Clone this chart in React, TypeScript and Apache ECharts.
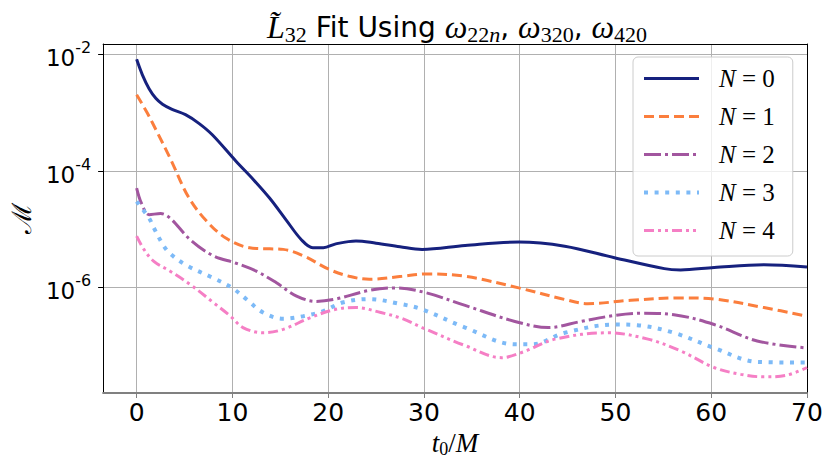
import React, { useEffect, useRef } from 'react';
import * as echarts from 'echarts';

// t0/M sample positions and mismatch values
const n0T = [0, 0.6, 1.3, 2.0, 2.7, 3.7, 5.1, 6.5, 7.9, 10.4, 12.2, 13.9, 15.6, 17.2, 18.4, 19.5, 20.8, 22.9, 25, 27.5, 29.8, 34.3, 39.9, 44.7, 49.9, 55.1, 56.8, 60.3, 65.5, 70];
const n0M = [8.3e-3, 4.5e-3, 2.6e-3, 1.78e-3, 1.41e-3, 1.15e-3, 9.3e-4, 6.6e-4, 4.2e-4, 1.46e-4, 7.1e-5, 3.4e-5, 1.45e-5, 6.6e-6, 4.8e-6, 4.8e-6, 5.6e-6, 6.3e-6, 5.75e-6, 5.0e-6, 4.5e-6, 5.25e-6, 6.0e-6, 5.1e-6, 3.24e-6, 2.1e-6, 2.0e-6, 2.2e-6, 2.45e-6, 2.25e-6];

const n1T = [0, 1.1, 2.1, 3.5, 5.4, 7.3, 9.4, 11.8, 13.9, 15.3, 17.4, 20.1, 22.2, 24.3, 27.7, 30.2, 34.3, 39.9, 44.7, 47.1, 51.6, 56.8, 60.3, 65.5, 70];
const n1M = [2.04e-3, 1.0e-3, 4.8e-4, 1.66e-4, 3.6e-5, 1.38e-5, 6.9e-6, 4.8e-6, 4.6e-6, 4.5e-6, 3.5e-6, 2.04e-6, 1.55e-6, 1.38e-6, 1.55e-6, 1.7e-6, 1.55e-6, 9.8e-7, 6.2e-7, 5.25e-7, 6.0e-7, 6.6e-7, 6.3e-7, 4.5e-7, 3.2e-7];

const n2T = [0, 0.5, 1.3, 2.5, 3.5, 5.6, 8, 10.4, 12.5, 14.6, 16.7, 18.75, 20.8, 24.3, 27, 30.2, 34.3, 39.5, 43, 46.4, 49.9, 52.7, 56.1, 60.3, 64.8, 70];
const n2M = [5.1e-5, 2.8e-5, 1.78e-5, 1.86e-5, 1.55e-5, 6.6e-6, 3.5e-6, 2.6e-6, 1.9e-6, 1.2e-6, 7.1e-7, 5.75e-7, 6.3e-7, 8.9e-7, 9.8e-7, 8.1e-7, 4.9e-7, 2.6e-7, 2.04e-7, 2.6e-7, 3.3e-7, 3.6e-7, 3.4e-7, 2.3e-7, 1.2e-7, 9.1e-8];

const n3T = [0, 1.3, 1.8, 2.8, 3.5, 5.2, 8, 9.9, 11.5, 13.2, 15.3, 17.4, 19.5, 21.5, 24.3, 27.4, 29.8, 34.3, 39.5, 41.3, 44.7, 49.9, 52.3, 56.1, 60.3, 64.8, 70];
const n3M = [3.0e-5, 1.55e-5, 1.05e-5, 5.25e-6, 3.8e-6, 2.4e-6, 1.45e-6, 1.0e-6, 6.2e-7, 3.7e-7, 2.9e-7, 3.2e-7, 3.9e-7, 5.5e-7, 6.3e-7, 5.25e-7, 4.2e-7, 2.04e-7, 1.05e-7, 1.05e-7, 1.66e-7, 2.3e-7, 2.24e-7, 1.66e-7, 9.1e-8, 5.25e-8, 5.1e-8];

const n4T = [0, 0.76, 1.8, 3.5, 5.6, 8, 9.8, 11.1, 13.2, 15.3, 18.1, 20.8, 22.9, 25.5, 27.75, 29.8, 34.3, 38.1, 40.2, 43.7, 49.2, 53.4, 56.8, 60.3, 63.1, 65.5, 67.9, 70];
const n4M = [7.6e-6, 4.5e-6, 2.8e-6, 1.9e-6, 1.12e-6, 5.5e-7, 3.2e-7, 2.04e-7, 1.66e-7, 1.9e-7, 3.0e-7, 4.2e-7, 4.5e-7, 3.7e-7, 2.9e-7, 2.04e-7, 1.0e-7, 6.2e-8, 7.6e-8, 1.29e-7, 1.66e-7, 1.29e-7, 8.1e-8, 4.2e-8, 3.2e-8, 2.9e-8, 3.1e-8, 4.2e-8];

const seriesNames = ['N=0', 'N=1', 'N=2', 'N=3', 'N=4'];
const seriesT = [n0T, n1T, n2T, n3T, n4T];
const seriesM = [n0M, n1M, n2M, n3M, n4M];

const colors = ['#16217e', '#fb7e3d', '#a2569f', '#7dbaf7', '#f57fc5'];
const widths = [3, 3, 3, 4, 3];
const dashes: any[] = ['solid', [10, 5], [17, 4, 3, 4], [4, 6.6], [10, 4, 3, 4, 3, 4]];

const SERIF = 'Liberation Serif';
const SANS = 'DejaVu Sans';

export default function App() {
  const ref = useRef<HTMLDivElement>(null);
  useEffect(() => {
    document.body.style.margin = '0';
    const chart = echarts.init(ref.current!, null, { renderer: 'svg' });
    const series = seriesNames.map((name, i) => ({
      name,
      type: 'line',
      symbol: 'none',
      showSymbol: false,
      smooth: 0.35,
      xAxisIndex: 0,
      yAxisIndex: 0,
      data: seriesT[i].map((t, j) => [t, seriesM[i][j]]),
      lineStyle: { color: colors[i], width: widths[i], type: dashes[i], cap: 'butt' },
      itemStyle: { color: colors[i] },
      z: 3 + i,
    }));
    const option: any = {
      animation: false,
      backgroundColor: '#ffffff',
      title: {
        left: 452,
        top: 4,
        textAlign: 'center',
        text: '{m|L\u0303}{sub|32}{t| Fit Using }{m|ω}{sub|22}{subi|n}{t|, }{m|ω}{sub|320}{t|, }{m|ω}{sub|420}',
        textStyle: {
          fontWeight: 'normal',
          rich: {
            m: { fontFamily: SERIF, fontStyle: 'italic', fontWeight: 'normal', fontSize: 32, color: '#000', lineHeight: 36 },
            t: { fontFamily: SANS, fontWeight: 'normal', fontSize: 28, color: '#000', lineHeight: 36 },
            sub: { fontFamily: SERIF, fontWeight: 'normal', fontSize: 22, color: '#000', lineHeight: 20, verticalAlign: 'bottom' },
            subi: { fontFamily: SERIF, fontStyle: 'italic', fontWeight: 'normal', fontSize: 22, color: '#000', lineHeight: 20, verticalAlign: 'bottom' },
          },
        },
      },
      legend: {
        left: 633,
        top: 57,
        orient: 'vertical',
        data: seriesNames,
        itemWidth: 55,
        itemHeight: 14,
        itemGap: 13,
        padding: [9, 18, 13, 9],
        backgroundColor: 'rgba(255,255,255,0.8)',
        borderColor: '#cccccc',
        borderWidth: 1,
        borderRadius: 5,
        itemStyle: { opacity: 0 },
        lineStyle: { width: 'inherit', type: 'inherit' },
        formatter: (name: string) => `{i|N}{n| = ${name.split('=')[1]}}`,
        textStyle: {
          rich: {
            i: { fontFamily: SERIF, fontStyle: 'italic', fontSize: 25, color: '#000', lineHeight: 26, padding: [0, 0, 0, 15] },
            n: { fontFamily: SERIF, fontSize: 25, color: '#000', lineHeight: 26 },
          },
        },
      },
      grid: { left: 99, right: 23, top: 44, bottom: 73 },
      xAxis: [
        {
          type: 'value',
          min: -3.5,
          max: 70,
          splitNumber: 7,
          name: '{i|t}{s|0}{n|/}{i|M}',
          nameLocation: 'middle',
          nameGap: 34,
          nameTextStyle: {
            rich: {
              i: { fontFamily: SERIF, fontStyle: 'italic', fontSize: 27, color: '#000', lineHeight: 30 },
              n: { fontFamily: SERIF, fontSize: 27, color: '#000', lineHeight: 30 },
              s: { fontFamily: SERIF, fontSize: 18, color: '#000', lineHeight: 18, verticalAlign: 'bottom' },
            },
          },
          axisLine: { show: true, onZero: false, lineStyle: { color: '#808080', width: 2 } },
          axisTick: { show: true, length: 5, lineStyle: { color: '#808080', width: 1 } },
          axisLabel: {
            showMinLabel: false,
            margin: 7,
            fontFamily: SANS,
            fontSize: 25,
            color: '#000',
          },
          splitLine: { show: true, showMinLine: false, showMaxLine: false, lineStyle: { color: '#b0b0b0', width: 1 } },
        },
        {
          type: 'value',
          position: 'top',
          min: -3.5,
          max: 70,
          axisLine: { show: true, onZero: false, lineStyle: { color: '#000', width: 1 } },
          axisTick: { show: false },
          axisLabel: { show: false },
          splitLine: { show: false },
        },
      ],
      yAxis: [
        {
          type: 'log',
          logBase: 100,
          min: Math.pow(10, -7.815),
          max: Math.pow(10, -1.817),
          name: 'ℳ',
          nameLocation: 'middle',
          nameRotate: 90,
          nameGap: 64,
          nameTextStyle: { fontFamily: 'DejaVu Serif', fontSize: 27, color: '#000' },
          axisLine: { show: true, onZero: false, lineStyle: { color: '#000', width: 1 } },
          axisTick: { show: true, length: 5, lineStyle: { color: '#000', width: 1 } },
          axisLabel: {
            showMinLabel: false,
            showMaxLabel: false,
            margin: 12,
            formatter: (v: number) => {
              const e = Math.round(Math.log10(v));
              if (Math.abs(Math.log10(v) - e) > 0.01) return '';
              return `{b|10}{s|${e}}`;
            },
            rich: {
              b: { fontFamily: SANS, fontSize: 23, color: '#000', lineHeight: 30, verticalAlign: 'bottom' },
              s: { fontFamily: SANS, fontSize: 16, color: '#000', lineHeight: 16, verticalAlign: 'top' },
            },
          },
          splitLine: { show: true, showMinLine: false, showMaxLine: false, lineStyle: { color: '#b0b0b0', width: 1 } },
        },
        {
          type: 'value',
          position: 'right',
          min: 0,
          max: 1,
          axisLine: { show: true, onZero: false, lineStyle: { color: '#000', width: 1 } },
          axisTick: { show: false },
          axisLabel: { show: false },
          splitLine: { show: false },
        },
      ],
      series,
    };
    chart.setOption(option);
    return () => chart.dispose();
  }, []);
  return <div ref={ref} style={{ position: 'absolute', left: 0, top: 0, width: 830, height: 466 }} />;
}
